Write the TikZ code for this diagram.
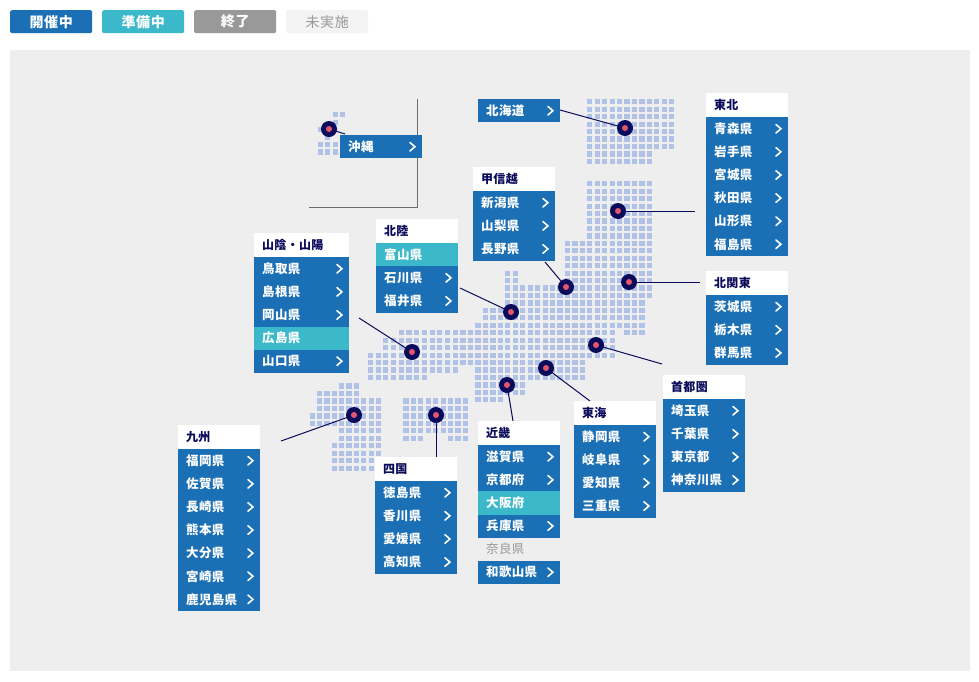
\documentclass[tikz,border=0pt]{standalone}
\usepackage{fontspec}
\setmainfont{Noto Sans CJK JP}[LetterSpace=2.5]
\newfontfamily\legendfont{Noto Sans CJK JP}[LetterSpace=5]
\definecolor{panelgray}{HTML}{EEEEEF}
\definecolor{menublue}{HTML}{1A6FB5}
\definecolor{menuteal}{HTML}{3BB8C9}
\definecolor{endgray}{HTML}{999999}
\definecolor{nonegray}{HTML}{F3F3F3}
\definecolor{squareblue}{HTML}{B0C2E8}
\definecolor{dotnavy}{HTML}{0B0B5C}
\definecolor{dotred}{HTML}{E4566A}
\tikzset{
  legendbox/.style={minimum width=82,minimum height=23,inner sep=0,rounded corners=1.5,anchor=north west,
                    font=\legendfont\fontsize{14}{16}\selectfont\bfseries,text=white},
  menuhead/.style={fill=white,minimum height=24,inner sep=0,anchor=north west},
  menuitem/.style={fill=menublue,minimum height=23.1,inner sep=0,anchor=north west},
  menuname/.style={anchor=west,inner sep=0,text=white,font=\fontsize{12.5}{14}\selectfont\bfseries},
  chevron/.style={white,line width=1.6,line cap=round},
  mapsq/.style={fill=squareblue},
  pindot/.style={circle,fill=dotnavy,minimum size=16,inner sep=0},
  pinline/.style={dotnavy,line width=1},
}
% one pulldown: prefix, left, top of list, width, items
\newcommand{\prefmenu}[5]{
  \foreach \pname [count=\i] in {#5} {
    \node[menuitem,minimum width=#4] (#1-\i) at (#2,{#3+23.1*(\i-1)}) {};
    \node[menuname] at ([xshift=8]#1-\i.west) {\pname};
    \draw[chevron] ([xshift=-12.5,yshift=4.3]#1-\i.east) -- ([xshift=-7.5]#1-\i.east) -- ([xshift=-12.5,yshift=-4.3]#1-\i.east);
  }
}
\newcommand{\prefhead}[5]{
  \node[menuhead,minimum width=#4] (#1) at (#2,#3) {};
  \node[anchor=west,inner sep=0,text=dotnavy,font=\fontsize{12}{14}\selectfont\bfseries] at ([xshift=8]#1.west) {#5};
}
\begin{document}
\begin{tikzpicture}[x=1pt,y=-1pt]
\useasboundingbox (0,0) rectangle (979,681);
\fill[white] (0,0) rectangle (979,681);

% legend
\node[legendbox,fill=menublue] (kaisai) at (10,10) {開催中};
\node[legendbox,fill=menuteal] (junbi) at (102,10) {準備中};
\node[legendbox,fill=endgray] (shuryo) at (194,10) {終了};
\node[legendbox,fill=nonegray,text=endgray,font=\legendfont\fontsize{14}{16}\selectfont] (mijisshi) at (286,10) {未実施};

\fill[panelgray] (10,50) rectangle (970,671);

% okinawa frame
\draw[gray!85!black,line width=0.8] (417,99) -- (417,207) -- (309,207);

% main islands: row/first/last
\foreach \r/\a/\b in {0/0/11,1/0/11,2/0/11,3/0/11,4/0/11,5/0/11,6/0/11,7/0/8,8/0/8,
    11/0/8,12/0/8,13/0/8,14/0/8,15/0/8,16/0/8,17/0/8,18/0/8,
    19/-3/8,20/-3/8,21/-3/8,22/-3/8,23/-3/8,24/-3/8,
    23/-11/-10,24/-11/-10,25/-11/8,26/-11/8,27/-11/7,
    28/-14/7,29/-14/7,30/-15/7,
    31/-16/3,31/5/7,32/-16/3,33/-16/3,34/-16/3,
    35/-16/-1,36/-15/-1,37/-15/-1,
    38/-15/-9,39/-15/-9,40/-15/-12}
  \foreach \c in {\a,...,\b}
    \fill[mapsq] ({587.2+7.45*\c},{99.2+7.45*\r}) rectangle ++(5.2,5.2);

% chugoku
\foreach \r/\a/\b in {31/4/12,32/2/12,33/2/12,34/0/12,35/0/12,36/0/11,37/0/7}
  \foreach \c in {\a,...,\b}
    \fill[mapsq] ({367.8+7.72*\c},{99.2+7.45*\r}) rectangle ++(5.2,5.2);

% shikoku
\foreach \r/\a/\b in {0/0/8,1/0/8,2/0/8,3/0/8,4/0/8,5/0/2,5/6/8}
  \foreach \c in {\a,...,\b}
    \fill[mapsq] ({403.4+7.42*\c},{398.4+7.45*\r}) rectangle ++(5.2,5.2);

% kyushu
\foreach \r/\a/\b in {0/4/6,1/1/6,2/1/9,3/1/9,4/0/9,5/0/9,6/4/9,7/4/9,8/3/9,9/3/9,10/3/8,11/3/8}
  \foreach \c in {\a,...,\b}
    \fill[mapsq] ({309.7+7.35*\c},{383.4+7.48*\r}) rectangle ++(5.2,5.2);

% okinawa
\foreach \r/\a/\b in {0/2/3,1/2/2,2/0/0,3/1/1,4/0/2,5/0/2}
  \foreach \c in {\a,...,\b}
    \fill[mapsq] ({317.7+7.45*\c},{112.2+7.45*\r}) rectangle ++(5.2,5.2);

% free ends of the lines
\coordinate (tohokuend) at (695,211);
\coordinate (kitakantoend) at (700,282);
\coordinate (shutokenend) at (662,364);
\coordinate (tokaiend) at (590,401);
\coordinate (kinkiend) at (513,421);
\coordinate (shikokuend) at (436,458);
\coordinate (kyushuend) at (281,441);
\coordinate (hokurikuend) at (460,288);
\coordinate (sanyoend) at (359,318);
\coordinate (koshinend) at (545,262);
\coordinate (hokkaidoend) at (560,110);
\coordinate (okinawaend) at (345,134);

\foreach \p/\x/\y in {okinawa/329/129,hokkaido/625/128,tohoku/618/211,koshin/566/287,kitakanto/629/282,
    hokuriku/511/312,sanyo/412/352,shutoken/596/345,tokai/546/368,kinki/507/385,shikoku/436/415,kyushu/354/415}
  \coordinate (\p pin) at (\x,\y);

\foreach \p/\e in {okinawa/okinawaend,hokkaido/hokkaidoend,tohoku/tohokuend,koshin/koshinend,kitakanto/kitakantoend,
    hokuriku/hokurikuend,sanyo/sanyoend,shutoken/shutokenend,tokai/tokaiend,kinki/kinkiend,shikoku/shikokuend,kyushu/kyushuend}
  \draw[pinline] (\p pin) -- (\e);

\foreach \p in {okinawa,hokkaido,tohoku,koshin,kitakanto,hokuriku,sanyo,shutoken,tokai,kinki,shikoku,kyushu} {
  \node[pindot] (\p) at (\p pin) {};
  \fill[dotred] (\p) circle (3);
}

% menus
\prefmenu{oki}{340}{135}{82}{沖縄}
\prefmenu{hok}{478}{99}{82}{北海道}
\prefhead{toh}{706}{93}{82}{東北}
\prefmenu{toh}{706}{117}{82}{青森県,岩手県,宮城県,秋田県,山形県,福島県}
\prefhead{kos}{473}{167}{82}{甲信越}
\prefmenu{kos}{473}{191}{82}{新潟県,山梨県,長野県}
\prefhead{hkr}{376}{219}{82}{北陸}
\prefmenu{hkr}{376}{243}{82}{富山県,石川県,福井県}
\node[menuitem,fill=menuteal,minimum width=82] (toyama) at (376,243) {};
\node[menuname] at ([xshift=8]toyama.west) {富山県};
\prefhead{san}{254}{233}{95}{山陰・山陽}
\prefmenu{san}{254}{257}{95}{鳥取県,島根県,岡山県,広島県,山口県}
\node[menuitem,fill=menuteal,minimum width=95] (hiroshima) at (254,326.3) {};
\node[menuname] at ([xshift=8]hiroshima.west) {広島県};
\prefhead{kit}{706}{271}{82}{北関東}
\prefmenu{kit}{706}{295}{82}{茨城県,栃木県,群馬県}
\prefhead{shu}{663}{375}{82}{首都圏}
\prefmenu{shu}{663}{399}{82}{埼玉県,千葉県,東京都,神奈川県}
\prefhead{tok}{574}{401}{82}{東海}
\prefmenu{tok}{574}{425}{82}{静岡県,岐阜県,愛知県,三重県}
\prefhead{kin}{478}{421}{82}{近畿}
\prefmenu{kin}{478}{445}{82}{滋賀県,京都府,大阪府,兵庫県}
\node[menuitem,fill=menuteal,minimum width=82] (osaka) at (478,491.2) {};
\node[menuname] at ([xshift=8]osaka.west) {大阪府};
\node[menuname,text=endgray,font=\fontsize{12.5}{14}\selectfont] (nara) at (486,548.5) {奈良県};
\prefmenu{waka}{478}{560.5}{82}{和歌山県}
\prefhead{shi}{375}{457}{82}{四国}
\prefmenu{shi}{375}{481}{82}{徳島県,香川県,愛媛県,高知県}
\prefhead{kyu}{178}{425}{82}{九州}
\prefmenu{kyu}{178}{449}{82}{福岡県,佐賀県,長崎県,熊本県,大分県,宮崎県,鹿児島県}
\end{tikzpicture}
\end{document}
